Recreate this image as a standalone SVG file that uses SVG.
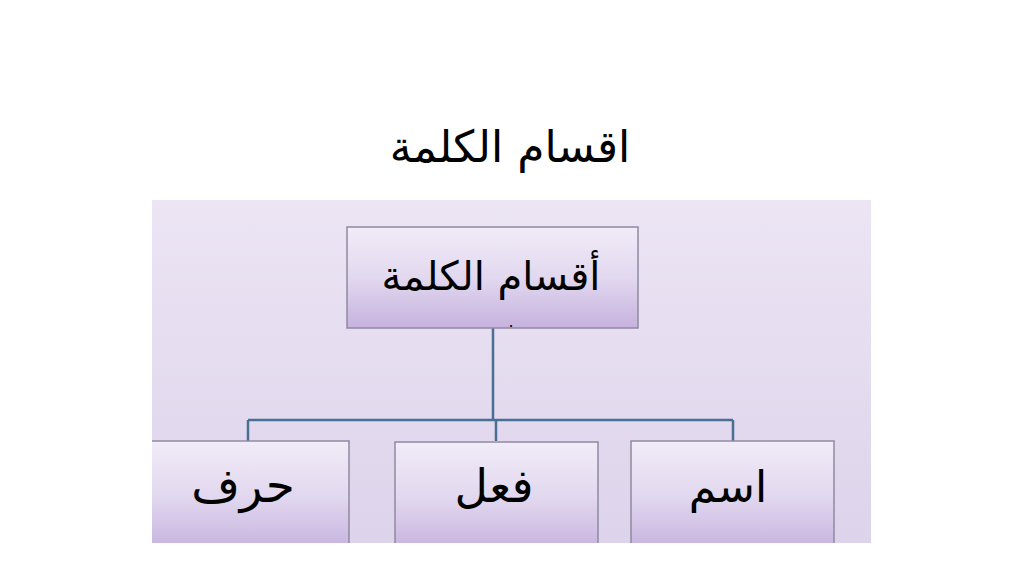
<svg xmlns="http://www.w3.org/2000/svg" width="1024" height="576" viewBox="0 0 1024 576">
  <defs>
    <linearGradient id="panelGrad" x1="0" y1="0" x2="0" y2="1">
      <stop offset="0" stop-color="#ece5f4"/>
      <stop offset="1" stop-color="#ddd3eb"/>
    </linearGradient>
    <linearGradient id="boxGrad" x1="0" y1="0" x2="0" y2="1">
      <stop offset="0" stop-color="#f1ecf8"/>
      <stop offset="0.5" stop-color="#e2d8ef"/>
      <stop offset="1" stop-color="#c6b2de"/>
    </linearGradient>
    <clipPath id="panelClip">
      <rect x="152" y="200" width="719" height="343"/>
    </clipPath>
  </defs>
  <style>
    .box { fill: url(#boxGrad); stroke: #8f8aa0; stroke-width: 1.5; }
    .lbl { font-family: "DejaVu Sans", "Liberation Sans", sans-serif; fill: #000; text-anchor: middle; }
    .conn { fill: none; stroke: #4a6f95; stroke-width: 2.5; }
  </style>
  <rect x="0" y="0" width="1024" height="576" fill="#ffffff"/>
  <text class="lbl" x="510" y="162" font-size="44" direction="rtl">اقسام الكلمة</text>
  <rect x="152" y="200" width="719" height="343" fill="url(#panelGrad)"/>
  <g clip-path="url(#panelClip)">
    <g id="connectors">
      <path class="conn" d="M493,328 V420 M248,420 H733 M248,420 V441 M496,420 V441 M733,420 V441"/>
    </g>
    <g id="root">
      <rect class="box" x="347" y="227" width="291" height="101"/>
      <text class="lbl" x="491" y="290" font-size="40" direction="rtl">أقسام الكلمة</text>
      <text class="lbl" x="511" y="327" font-size="16">.</text>
    </g>
    <g id="harf">
      <rect class="box" x="140" y="441" width="209" height="110"/>
      <text class="lbl" x="243" y="502" font-size="47" direction="rtl">حرف</text>
    </g>
    <g id="fiil">
      <rect class="box" x="395" y="442" width="203" height="110"/>
      <text class="lbl" x="494" y="502" font-size="46" direction="rtl">فعل</text>
    </g>
    <g id="ism">
      <rect class="box" x="631" y="441" width="203" height="110"/>
      <text class="lbl" x="728" y="502" font-size="44" direction="rtl">اسم</text>
    </g>
  </g>
</svg>
